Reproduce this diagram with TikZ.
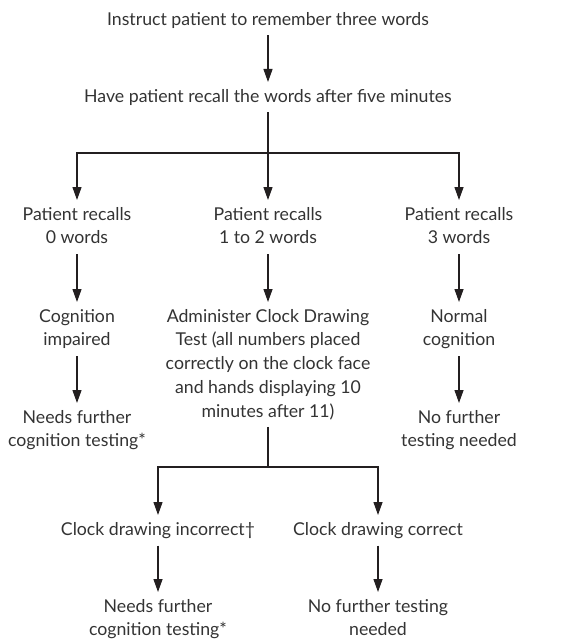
\documentclass[tikz,border=0pt]{standalone}
\usepackage{fontspec}
\setmainfont{Lato}
\usetikzlibrary{arrows.meta}
\definecolor{ink}{HTML}{231F20}
\definecolor{txt}{HTML}{333333}
\begin{document}
\begin{tikzpicture}[x=1pt,y=-1pt,
  lbl/.style={anchor=north,align=center,inner xsep=0pt,inner ysep=7pt,text=txt,
    font=\fontsize{17.7}{23.7}\selectfont},
  arr/.style={draw=ink,line width=1.25pt,-{Triangle[length=13pt,width=9pt]}},
  ln/.style={draw=ink,line width=1.25pt}]
\useasboundingbox (0,0) rectangle (582,639);
% nodes
\node[lbl] (t1) at (268,5) {Instruct patient to remember three words};
\node[lbl] (t2) at (268,82) {Have patient recall the words after five minutes};
\node[lbl] (l1) at (77,200) {Patient recalls\\0 words\vphantom{g}};
\node[lbl] (m1) at (268,200) {Patient recalls\\1 to 2 words\vphantom{g}};
\node[lbl] (r1) at (459,200) {Patient recalls\\3 words\vphantom{g}};
\node[lbl] (l2) at (77,302) {Cognition\\impaired};
\node[lbl] (m2) at (268,302) {Administer Clock Drawing\\Test (all numbers placed\\correctly on the clock face\\and hands displaying 10\\minutes after 11)};
\node[lbl] (r2) at (459,302) {Normal\\cognition};
\node[lbl] (l3) at (77,403) {Needs further\\cognition testing*};
\node[lbl] (r3) at (459,403) {No further\\testing needed};
\node[lbl] (c1) at (158,515) {Clock drawing incorrect†};
\node[lbl] (c2) at (378,515) {Clock drawing correct};
\node[lbl] (c3) at (158,592) {Needs further\\cognition testing*};
\node[lbl] (c4) at (378,592) {No further testing\\needed};
\coordinate (j1) at (268,153);
\coordinate (j2) at (268,467);
% connectors
\draw[arr] (t1.south) -- (t2.north);
\draw[ln] (t2.south) -- (j1);
\draw[arr] (j1) -| (l1.north);
\draw[arr] (j1) -- (m1.north);
\draw[arr] (j1) -| (r1.north);
\draw[arr] (l1.south) -- (l2.north);
\draw[arr] (m1.south) -- (m2.north);
\draw[arr] (r1.south) -- (r2.north);
\draw[arr] (l2.south) -- (l3.north);
\draw[arr] (r2.south) -- (r3.north);
\draw[ln] (m2.south) -- (j2);
\draw[arr] (j2) -| (c1.north);
\draw[arr] (j2) -| (c2.north);
\draw[arr] (c1.south) -- (c3.north);
\draw[arr] (c2.south) -- (c4.north);
\end{tikzpicture}
\end{document}
